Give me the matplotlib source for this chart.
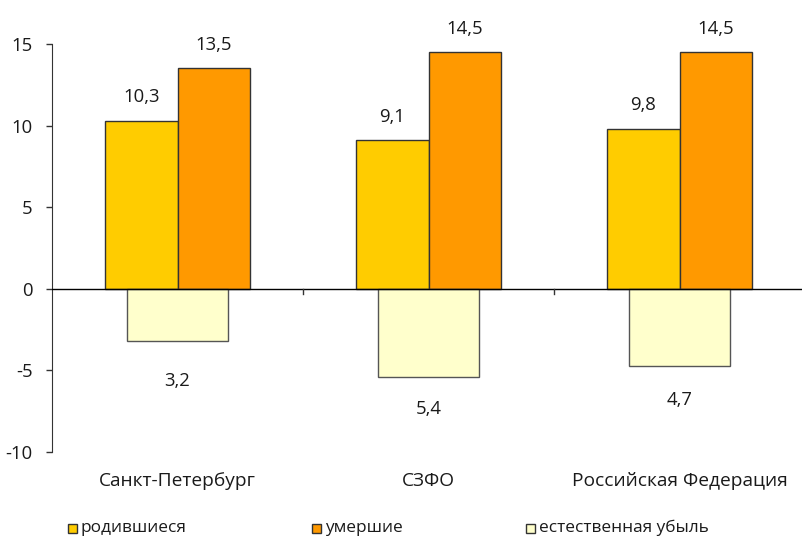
import matplotlib
matplotlib.use("Agg")
import matplotlib.pyplot as plt
from matplotlib.patches import Rectangle
import numpy as np

plt.rcParams['font.family'] = ['Open Sans', 'DejaVu Sans']

categories = ["Санкт-Петербург", "СЗФО", "Российская Федерация"]
births = [10.3, 9.1, 9.8]
deaths = [13.5, 14.5, 14.5]
decline = [-3.2, -5.4, -4.7]
series_names = ["родившиеся", "умершие", "естественная убыль"]
yticks = [-10, -5, 0, 5, 10, 15]

c_birth = "#FFCC00"
c_death = "#FF9900"
c_decl = "#FFFFCC"
txt = "#1a1a1a"
FS = 13.3

W, H = 802, 541
fig = plt.figure(figsize=(W / 100, H / 100), dpi=100)
x0, x1 = 52, 805
y_top, y_bot = 44, 452
ax = fig.add_axes([x0 / W, 1 - y_bot / H, (x1 - x0) / W, (y_bot - y_top) / H])

x = np.arange(len(categories))
bw = 72.5 / 251.0
dw = 101 / 251.0
ax.bar(x - bw / 2, births, width=bw, color=c_birth, edgecolor="#333333", linewidth=1, zorder=3)
ax.bar(x + bw / 2, deaths, width=bw, color=c_death, edgecolor="#333333", linewidth=1, zorder=3)
ax.bar(x, decline, width=dw, color=c_decl, edgecolor="#555555", linewidth=1, zorder=3)

ax.set_xlim(-0.5, 2.5)
ax.set_ylim(-10, 15)
ax.axhline(0, color="black", linewidth=1, zorder=4)

fmt = lambda v: f"{abs(v):.1f}".replace(".", ",")
for i in range(len(categories)):
    ax.annotate(fmt(births[i]), (x[i] - bw / 2, births[i]), xytext=(0, 17), textcoords="offset points",
                ha="center", va="center", fontsize=FS, color=txt)
    ax.annotate(fmt(deaths[i]), (x[i] + bw / 2, deaths[i]), xytext=(0, 17), textcoords="offset points",
                ha="center", va="center", fontsize=FS, color=txt)
neg_off = [29, 23, 24.5]
for i in range(len(categories)):
    ax.annotate(fmt(decline[i]), (x[i], decline[i]), xytext=(0, -neg_off[i]), textcoords="offset points",
                ha="center", va="center", fontsize=FS, color=txt)

for s in ["top", "right", "bottom"]:
    ax.spines[s].set_visible(False)
ax.spines["left"].set_color("#333333")
ax.set_yticks(yticks)
ax.set_yticklabels([str(t) for t in yticks], fontsize=FS, color=txt)
ax.tick_params(axis="y", direction="out", length=4, width=1, color="#333333", pad=10)
ax.set_xticks([])
# category separators
for sx in [0.5, 1.5]:
    ax.plot([sx, sx], [0, -0.3], color="#333333", linewidth=1, zorder=4, clip_on=False)

for i, c in enumerate(categories):
    fig.text((x0 + (x[i] + 0.5) * 251) / W, 1 - 481 / H, c, ha="center", va="center",
             fontsize=13.8, color=txt)

# legend
leg_x = [68, 312, 526]
colors = [c_birth, c_death, c_decl]
for lx, col, name in zip(leg_x, colors, series_names):
    fig.add_artist(Rectangle((lx / W, 1 - 533 / H), 9 / W, 9 / H, transform=fig.transFigure,
                             facecolor=col, edgecolor="#333333", linewidth=1))
    fig.text((lx + 13) / W, 1 - 528 / H, name, ha="left", va="center", fontsize=12.4, color=txt)

fig.savefig("out.png", dpi=100)
